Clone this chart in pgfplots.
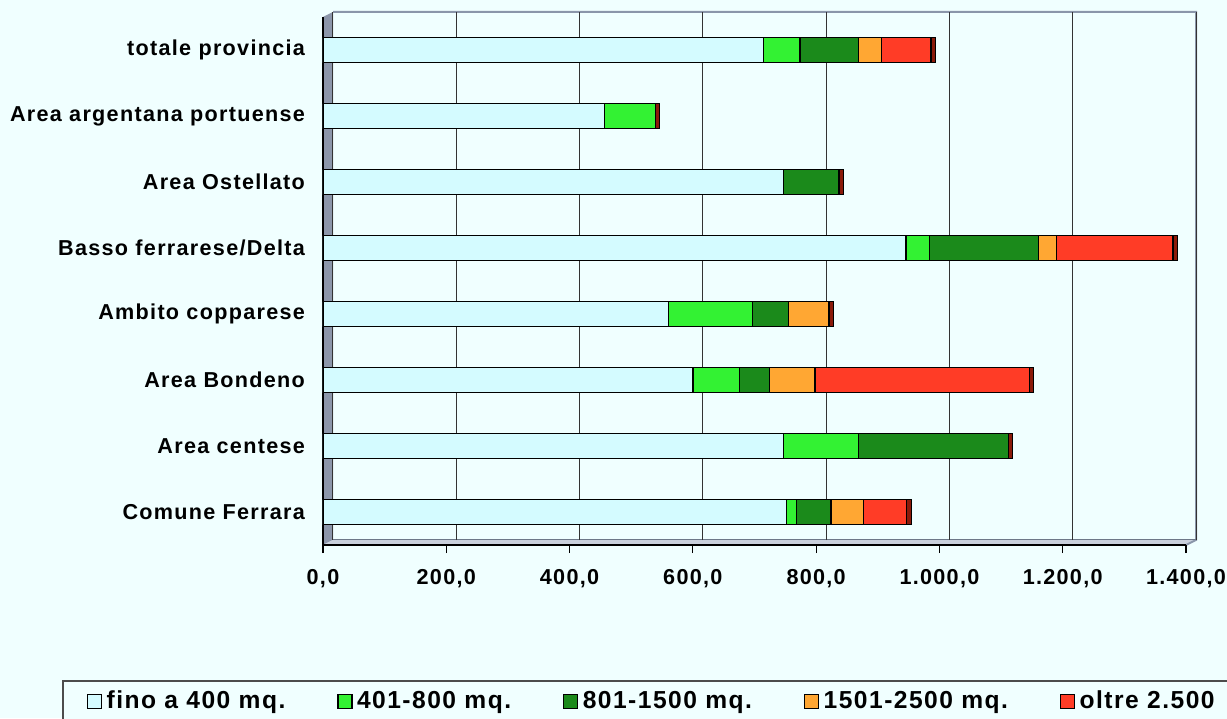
\documentclass[border=0pt]{standalone}
\usepackage{fontspec}
\setmainfont{Liberation Sans}[LetterSpace=6]
\usepackage{pgfplots}
\usepackage{pgfplotstable}
\pgfplotsset{compat=1.18}
\definecolor{bgc}{HTML}{F0FFFF}
\definecolor{cA}{HTML}{D4FBFF}
\definecolor{cB}{HTML}{33F233}
\definecolor{cC}{HTML}{1B8A1B}
\definecolor{cD}{HTML}{FFA733}
\definecolor{cE}{HTML}{FF3C26}
\definecolor{cF}{HTML}{8B1A0A}
\definecolor{wallc}{HTML}{8C96AA}
\definecolor{floorc}{HTML}{C9D0DC}
\definecolor{edgec}{HTML}{8A96AA}
\pgfplotstableread{
y fino b c d e cap
0 752 16 56 53 70 7
1 747 122 243 0 0 7
2 600 76 48 74 348 7
3 560 137 58 66 0 7
4 946 38 177 29 189 7
5 747 0 90 0 0 7
6 457 82 0 0 0 7
7 715 59 95 37 80 7
}\data
\begin{document}
\begin{tikzpicture}
\fill[bgc] (0,0) rectangle (613.5pt,359pt);
% 3D walls (behind the axis)
\fill[wallc] (161.5pt,86.5pt) -- (161.5pt,350.5pt) -- (166.5pt,353pt) -- (166.5pt,89pt) -- cycle;
\fill[floorc] (161.5pt,86.5pt) -- (593pt,86.5pt) -- (598pt,89pt) -- (166.5pt,89pt) -- cycle;
\draw[edgec, line width=1pt] (166.5pt,353pt) -- (598pt,353pt) -- (598pt,89pt) -- (593pt,86.5pt);
\draw[edgec!80!black, line width=0.5pt] (166.5pt,89pt) -- (598pt,89pt);
\begin{axis}[
  at={(161.5pt,86.5pt)}, anchor=south west,
  scale only axis, width=431.5pt, height=264pt,
  xmin=0, xmax=1400, ymin=-0.5, ymax=7.5,
  xbar stacked, bar width=12.5pt,
  axis lines*=left, axis line style={-,black,line width=0.6pt},
  xtick={0,200,...,1400},
  xticklabels={{0,0},{200,0},{400,0},{600,0},{800,0},{1.000,0},{1.200,0},{1.400,0}},
  tick align=outside, major tick length=4pt,
  xtick style={black,line width=0.6pt},
  ytick={0,...,7},
  yticklabels={Comune Ferrara, Area centese, Area Bondeno, Ambito copparese, Basso ferrarese/Delta, Area Ostellato, Area argentana portuense, totale provincia},
  ytick style={draw=none},
  ticklabel style={font=\bfseries\fontsize{10.8}{12}\selectfont},
  yticklabel style={xshift=-1.5pt},
  xticklabel style={yshift=-4.5pt},
  xmajorgrids, major grid style={draw=black!80, line width=0.5pt, xshift=5pt, yshift=2.5pt},
  legend columns=5,
  legend cell align=left,
  legend image code/.code={\draw[#1,draw=black,line width=0.6pt] (0pt,-3.5pt) rectangle (7pt,3.5pt);},
  legend style={at={(-0.3024,-0.2557)}, anchor=north west, draw=black!70, line width=1pt, fill=bgc,
    inner xsep=12pt, inner ysep=4pt, font=\bfseries\fontsize{12.3}{14}\selectfont,
    /tikz/every odd column/.append style={column sep=1.2pt},
    /tikz/every even column/.append style={column sep=25pt}, nodes={inner sep=1pt}},
]
\pgfplotsinvokeforeach{-0.5,0.5,1.5,2.5,3.5,4.5,5.5,6.5,7.5}{\draw[black,line width=0.6pt] (axis cs:0,#1) -- ++(-5pt,0pt);}
\addplot[fill=cA, draw=black, line width=0.7pt] table[x=fino, y=y]{\data};
\addplot[fill=cB, draw=black, line width=0.7pt] table[x=b, y=y]{\data};
\addplot[fill=cC, draw=black, line width=0.7pt] table[x=c, y=y]{\data};
\addplot[fill=cD, draw=black, line width=0.7pt] table[x=d, y=y]{\data};
\addplot[fill=cE, draw=black, line width=0.7pt] table[x=e, y=y]{\data};
\addplot[fill=cF, draw=black, line width=0.5pt, forget plot] table[x=cap, y=y]{\data};
\legend{fino a 400 mq., 401-800 mq., 801-1500 mq., 1501-2500 mq., oltre 2.500}
\end{axis}
\pgfresetboundingbox
\useasboundingbox (0,0) rectangle (613.5pt,359pt);
\end{tikzpicture}
\end{document}
